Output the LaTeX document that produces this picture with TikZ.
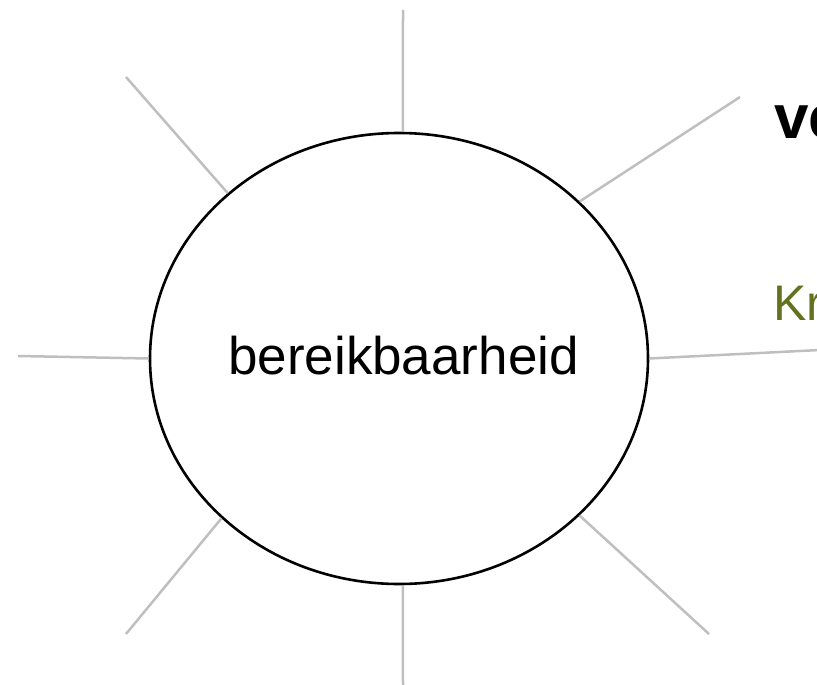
\documentclass[tikz,border=0pt]{standalone}
\usepackage{fontspec}
\setmainfont{Liberation Sans}
\usetikzlibrary{shapes.geometric}
\definecolor{krgreen}{RGB}{98,114,30}
\tikzset{spoke/.style={line width=2.5pt,gray!50}}
\begin{document}
\begin{tikzpicture}[x=1pt,y=-1pt]
  \clip (0,0) rectangle (817,685);
  \node[draw,ellipse,line width=2.6pt,minimum width=498pt,minimum height=451pt,
        inner sep=0pt] (bub) at (399,358.5) {};
  \node[inner sep=0pt,anchor=base,font=\fontsize{53}{60}\selectfont] (lbl) at (403.5,374) {bereikbaarheid};
  \coordinate (top) at (403,10);
  \coordinate (ur) at (740,97);
  \coordinate (rgt) at (830,349.5);
  \coordinate (lr) at (709,634);
  \coordinate (bot) at (403,690);
  \coordinate (ll) at (126,634);
  \coordinate (lft) at (18,356);
  \coordinate (ul) at (126,77);
  \draw[spoke] (top) -- (bub.89);
  \draw[spoke] (ur) -- (bub.41.9);
  \draw[spoke] (rgt) -- (bub.0.8);
  \draw[spoke] (lr) -- (bub.-41);
  \draw[spoke] (bot) -- (bub.-89);
  \draw[spoke] (ll) -- (bub.222.5);
  \draw[spoke] (lft) -- (bub.180);
  \draw[spoke] (ul) -- (bub.136.4);
  \node[anchor=base west,inner sep=0pt,font=\bfseries\fontsize{62}{70}\selectfont] (ve) at (774,138) {ve};
  \node[anchor=base west,inner sep=0pt,text=krgreen,font=\fontsize{50}{60}\selectfont] (kr) at (773,320) {Kr};
\end{tikzpicture}
\end{document}
